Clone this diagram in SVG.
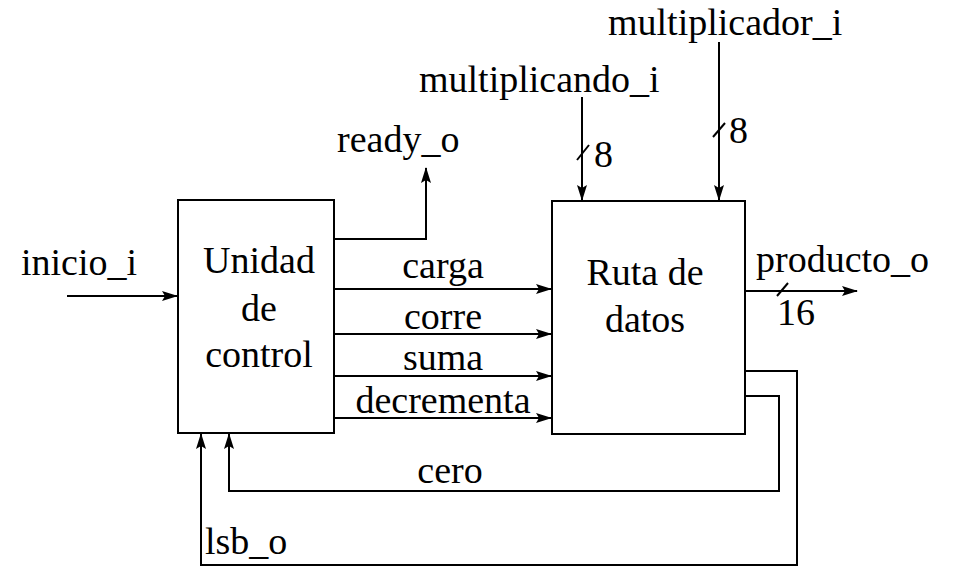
<svg xmlns="http://www.w3.org/2000/svg" width="958" height="576" viewBox="0 0 958 576">
<style>
text{font-family:"Liberation Serif","Times New Roman",serif;font-size:38px;fill:#000}
.w{fill:none;stroke:#000;stroke-width:2}
.b{fill:#fff;stroke:#000;stroke-width:2}
</style>
<defs>
<marker id="a" markerWidth="16" markerHeight="10" refX="15" refY="5" orient="auto" markerUnits="userSpaceOnUse">
<path d="M0,0 L16,5 L0,10 L3,5 Z" fill="#000"/>
</marker>
</defs>
<rect width="958" height="576" fill="#fff"/>
<g id="control">
<rect class="b" x="178" y="200" width="156" height="233"/>
<text x="259" y="273" text-anchor="middle">Unidad</text>
<text x="259" y="321" text-anchor="middle">de</text>
<text x="259" y="367" text-anchor="middle">control</text>
</g>
<g id="datapath">
<rect class="b" x="552" y="201" width="193" height="233"/>
<text x="645" y="285" text-anchor="middle">Ruta de</text>
<text x="645" y="332" text-anchor="middle">datos</text>
</g>
<g id="connectors">
<path class="w" d="M67,296 H177" marker-end="url(#a)"/>
<path class="w" d="M334,239 H426 V168" marker-end="url(#a)"/>
<path class="w" d="M334,289 H551" marker-end="url(#a)"/>
<path class="w" d="M334,334 H551" marker-end="url(#a)"/>
<path class="w" d="M334,376 H551" marker-end="url(#a)"/>
<path class="w" d="M334,418 H551" marker-end="url(#a)"/>
<path class="w" d="M582,97 V200" marker-end="url(#a)"/>
<path class="w" d="M719,42 V200" marker-end="url(#a)"/>
<path class="w" d="M745,291 H857" marker-end="url(#a)"/>
<path class="w" d="M745,396 H779 V491 H229 V434" marker-end="url(#a)"/>
<path class="w" d="M745,371 H797 V565 H201 V434" marker-end="url(#a)"/>
<path class="w" d="M577,160 L589,145"/>
<path class="w" d="M713,137 L725,123"/>
<path class="w" d="M777,296 L788,283"/>
</g>
<g id="labels">
<text x="21" y="275">inicio_i</text>
<text x="337" y="152">ready_o</text>
<text x="419" y="92">multiplicando_i</text>
<text x="608" y="35">multiplicador_i</text>
<text x="594" y="167">8</text>
<text x="729" y="143">8</text>
<text x="756" y="272">producto_o</text>
<text x="777" y="325">16</text>
<text x="443" y="278" text-anchor="middle">carga</text>
<text x="443" y="329" text-anchor="middle">corre</text>
<text x="443" y="370" text-anchor="middle">suma</text>
<text x="443" y="413" text-anchor="middle">decrementa</text>
<text x="450" y="483" text-anchor="middle">cero</text>
<text x="205" y="554">lsb_o</text>
</g>
</svg>
